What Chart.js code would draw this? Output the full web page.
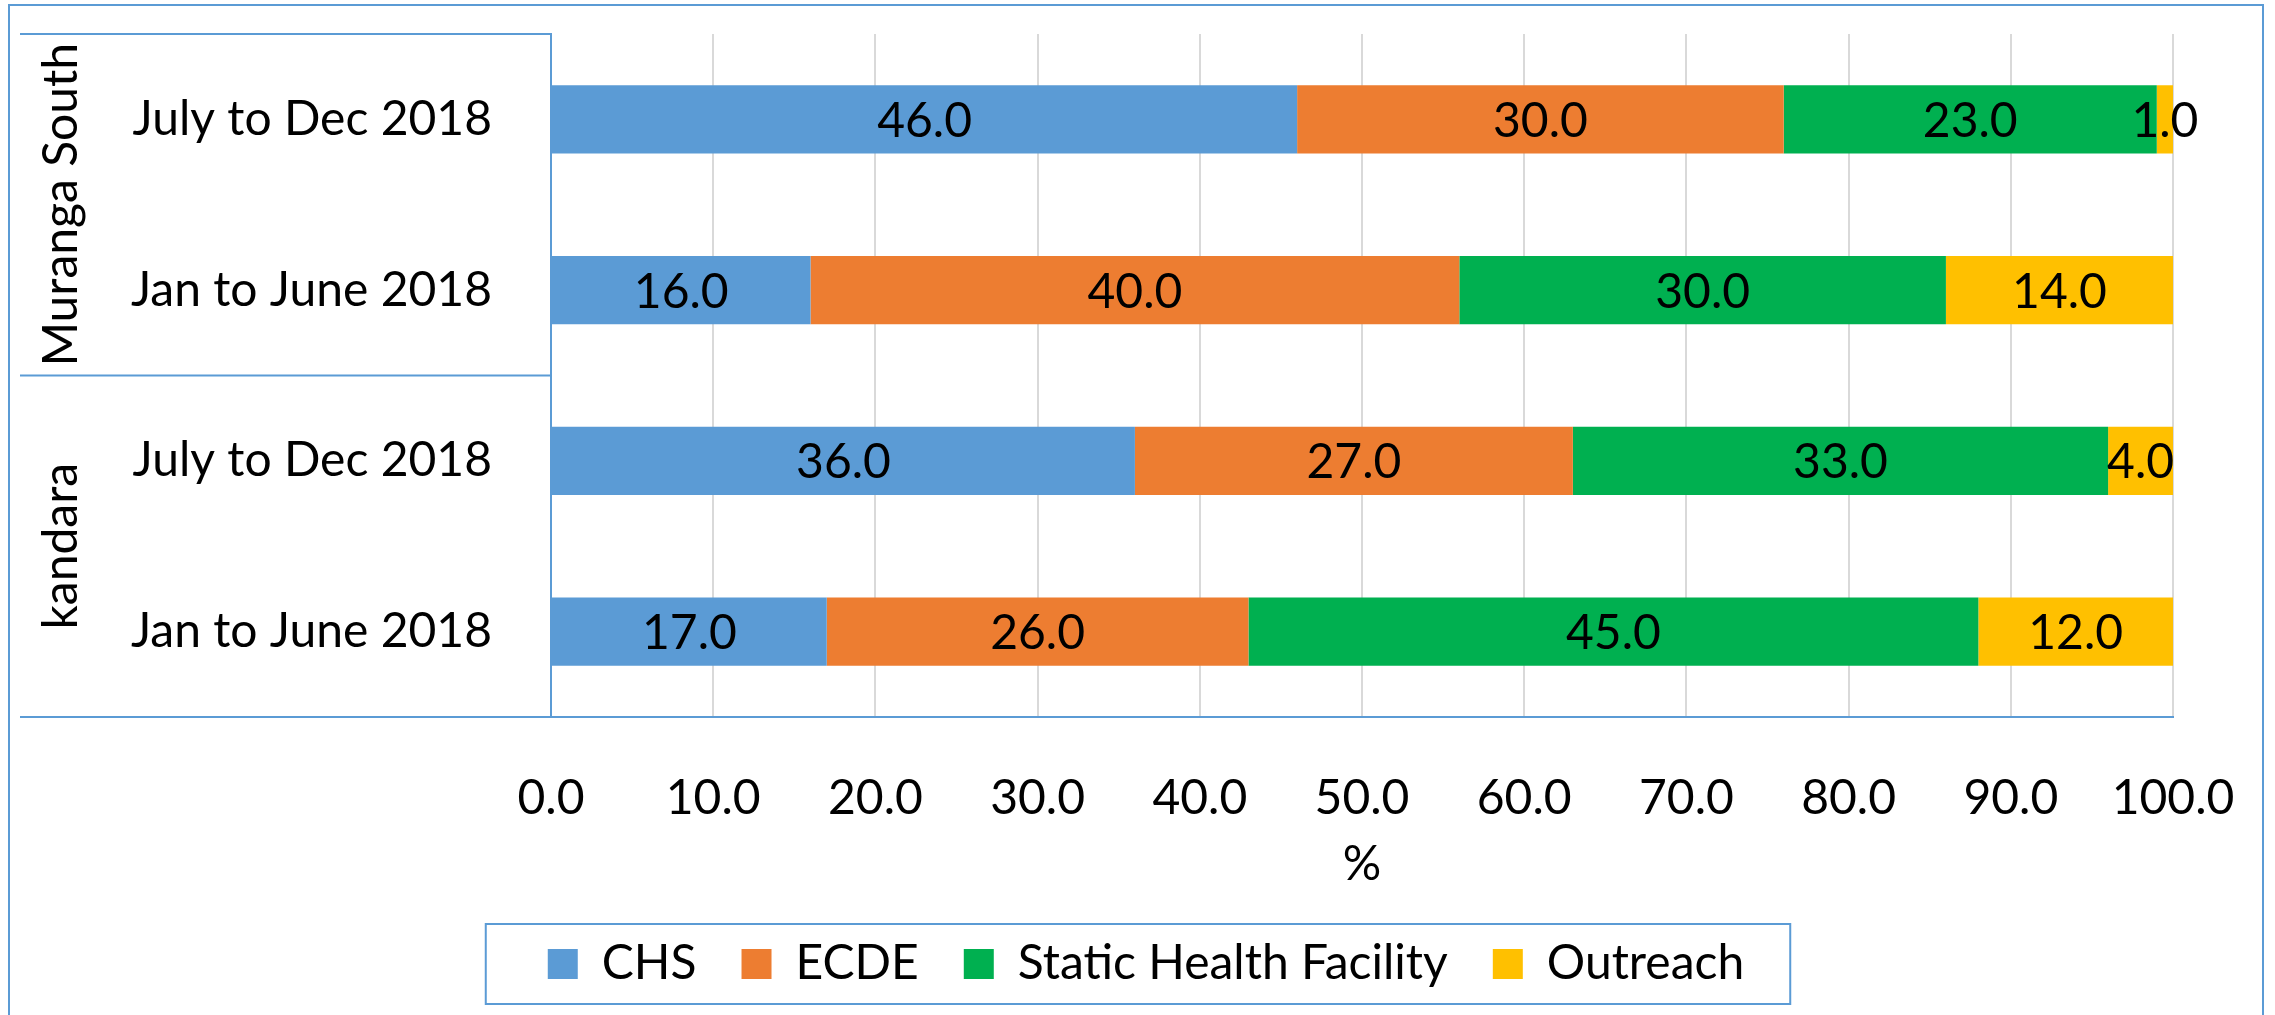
<!DOCTYPE html>
<html>
<head>
<meta charset="utf-8">
<script src="https://cdn.jsdelivr.net/npm/chart.js@4.4.0/dist/chart.umd.min.js"></script>
<style>
  html, body { margin: 0; padding: 0; background: #fff; }
  #wrap { width: 2275px; height: 1015px; }
</style>
</head>
<body>
<div id="wrap"><canvas id="myChart" width="2275" height="1015"></canvas></div>
<script>
// DATA
const categories = ['July to Dec 2018', 'Jan to June 2018', 'July to Dec 2018', 'Jan to June 2018'];
const groups = ['Muranga South', 'kandara'];
const groupSizes = [2, 2];
const seriesNames = ['CHS', 'ECDE', 'Static Health Facility', 'Outreach'];
const chs = [46.0, 16.0, 36.0, 17.0];
const ecde = [30.0, 40.0, 27.0, 26.0];
const staticFacility = [23.0, 30.0, 33.0, 45.0];
const outreach = [1.0, 14.0, 4.0, 12.0];
const xTicks = [0, 10, 20, 30, 40, 50, 60, 70, 80, 90, 100];

const colors = ['#5B9BD5', '#ED7D31', '#00B050', '#FFC000'];
const lineBlue = '#5B9BD5';
const fontFamily = 'Lato, "Open Sans", sans-serif';
const fontSize = 48;
const padLeft = 119;

// group labels, table lines, outer border, data labels, legend box
const excelLook = {
    id: 'excelLook',
    afterDatasetsDraw(chart) {
        const ctx = chart.ctx;
        ctx.save();
        ctx.fillStyle = '#000';
        ctx.font = fontSize + 'px ' + fontFamily;
        ctx.textAlign = 'center';
        ctx.textBaseline = 'middle';
        chart.data.datasets.forEach((ds, i) => {
            const meta = chart.getDatasetMeta(i);
            meta.data.forEach((bar, j) => {
                const cx = (bar.x + bar.base) / 2;
                ctx.fillText(ds.data[j].toFixed(1), cx, bar.y + 2);
            });
        });
        ctx.restore();
    },
    afterDraw(chart) {
        const ctx = chart.ctx;
        const area = chart.chartArea;
        const y = chart.scales.y;
        ctx.save();
        ctx.strokeStyle = lineBlue;
        ctx.lineWidth = 2;

        // outer frame (no bottom edge, it runs off the picture)
        ctx.beginPath();
        ctx.moveTo(9, chart.height);
        ctx.lineTo(9, 5);
        ctx.lineTo(2263, 5);
        ctx.lineTo(2263, chart.height);
        ctx.stroke();

        // table lines of the category axis
        const step = y.getPixelForValue(1) - y.getPixelForValue(0);
        let idx = 0;
        const edges = [y.getPixelForValue(0) - step / 2];
        groupSizes.forEach(n => {
            idx += n;
            edges.push(y.getPixelForValue(idx - 1) + step / 2);
        });
        ctx.beginPath();
        edges.forEach(e => {
            ctx.moveTo(20, e);
            ctx.lineTo(area.left, e);
        });
        ctx.stroke();

        // rotated group names
        ctx.fillStyle = '#000';
        ctx.font = fontSize + 'px ' + fontFamily;
        ctx.textAlign = 'center';
        ctx.textBaseline = 'middle';
        groups.forEach((g, i) => {
            const cy = (edges[i] + edges[i + 1]) / 2;
            ctx.save();
            ctx.translate(62, cy);
            ctx.rotate(-Math.PI / 2);
            ctx.fillText(g, 0, 0);
            ctx.restore();
        });

        // legend frame
        const boxes = chart.legend.legendHitBoxes;
        if (boxes && boxes.length) {
            const l = Math.min(...boxes.map(b => b.left)) - 62;
            const r = Math.max(...boxes.map(b => b.left + b.width)) + 46;
            const cy = boxes[0].top + boxes[0].height / 2;
            ctx.strokeRect(l, cy - 40, r - l, 80);
        }
        ctx.restore();
    }
};

const ctx = document.getElementById('myChart').getContext('2d');
const myChart = new Chart(ctx, {
    type: 'bar',
    data: {
        labels: categories,
        datasets: [chs, ecde, staticFacility, outreach].map((d, i) => ({
            label: seriesNames[i],
            data: d,
            backgroundColor: colors[i],
            borderWidth: 0,
            categoryPercentage: 0.4,
            barPercentage: 1.0
        }))
    },
    options: {
        indexAxis: 'y',
        responsive: false,
        animation: false,
        devicePixelRatio: 1,
        layout: {
            padding: { top: 34, right: 102, left: padLeft, bottom: 17 }
        },
        scales: {
            x: {
                stacked: true,
                min: 0,
                max: 100,
                afterBuildTicks: scale => {
                    scale.ticks = xTicks.map(v => ({ value: v }));
                },
                afterFit: scale => {
                    scale.height = 178;
                    scale.paddingLeft = 0;
                    scale.paddingRight = 0;
                },
                ticks: {
                    callback: v => Number(v).toFixed(1),
                    color: '#000',
                    padding: 53,
                    maxRotation: 0,
                    font: { family: fontFamily, size: fontSize }
                },
                grid: { color: '#D9D9D9', lineWidth: 2, drawTicks: false },
                border: { color: lineBlue, width: 2 },
                title: {
                    display: true,
                    text: '%',
                    color: '#000',
                    font: { family: fontFamily, size: fontSize },
                    padding: { top: 0, bottom: 2 }
                }
            },
            y: {
                stacked: true,
                afterFit: scale => {
                    scale.width = 551 - padLeft;
                    scale.paddingTop = 0;
                    scale.paddingBottom = 0;
                },
                ticks: {
                    color: '#000',
                    padding: 51,
                    font: { family: fontFamily, size: fontSize }
                },
                grid: { display: false },
                border: { color: lineBlue, width: 2 }
            }
        },
        plugins: {
            legend: {
                position: 'bottom',
                labels: {
                    boxWidth: 30,
                    boxHeight: 30,
                    padding: 45,
                    color: '#000',
                    font: { family: fontFamily, size: fontSize }
                }
            },
            tooltip: { enabled: false }
        }
    },
    plugins: [excelLook]
});
</script>
</body>
</html>
